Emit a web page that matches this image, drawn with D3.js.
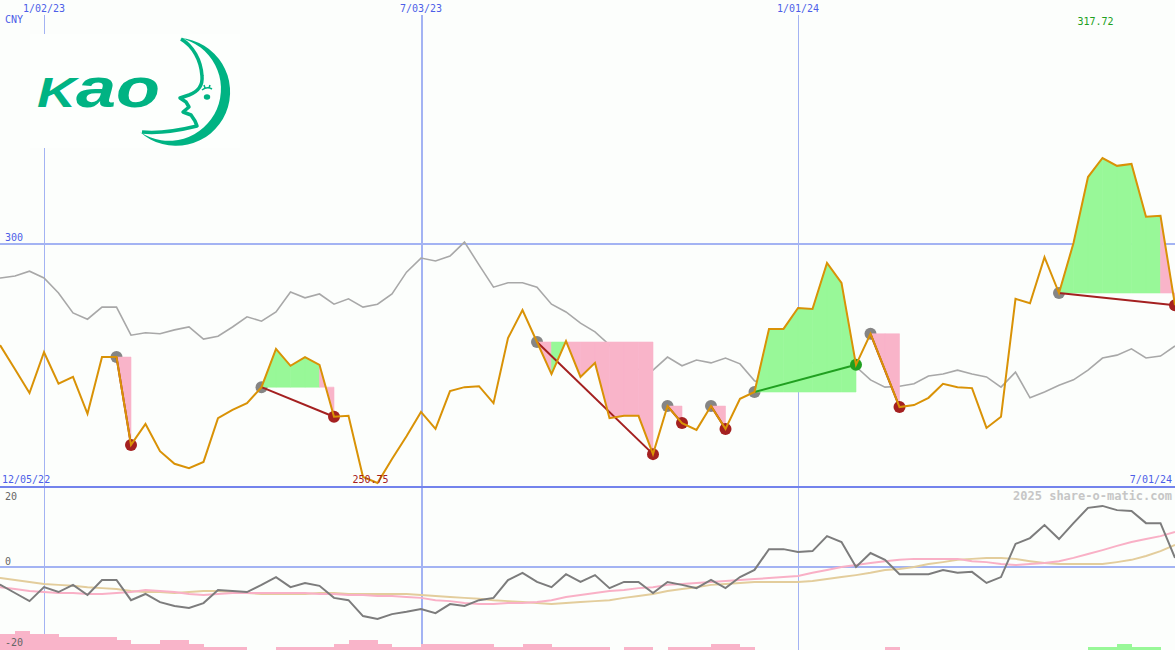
<!DOCTYPE html>
<html>
<head>
<meta charset="utf-8">
<script src="https://cdn.jsdelivr.net/npm/d3@7"></script>
<style>
  html, body { margin: 0; padding: 0; background: #fcfefc; }
  svg { display: block; }
</style>
</head>
<body>
<div id="chart"></div>
<script>

// weekly closes (CNY), 12/05/22 .. 7/01/24
const price = [
  280.2, 279.0, 274.2, 269.3, 277.7, 271.2, 272.6, 265.0, 276.7, 276.7,
  258.6, 262.9, 257.3, 254.7, 253.8, 255.1, 264.1, 265.8, 267.2, 270.5,
  278.4, 274.9, 276.7, 275.1, 264.4, 264.6, 252.0, 250.75, 255.7, 260.4,
  265.4, 261.9, 269.7, 270.5, 270.7, 267.2, 280.6, 286.4, 279.8, 273.2,
  280.0, 272.6, 275.5, 264.1, 264.6, 264.6, 256.7, 266.6, 263.1, 261.7,
  266.6, 261.9, 268.1, 269.5, 282.5, 282.5, 286.8, 286.6, 296.1, 292.0,
  275.1, 281.5, 274.0, 266.4, 266.8, 268.3, 271.2, 270.5, 270.3, 262.1,
  264.4, 288.7, 287.8, 297.3, 289.9, 300.2, 313.8, 317.72, 316.1, 316.5,
  305.6, 305.8, 287.4
]

// grey comparison line, drawn on the price scale
const compare = [
  292.6, 293.0, 293.4, 294.4, 293.0, 289.9, 285.8, 284.5, 287.0, 287.0,
  281.2, 281.7, 281.5, 282.3, 282.9, 280.4, 281.0, 282.9, 285.0, 284.1,
  286.0, 290.1, 288.9, 289.7, 287.6, 288.7, 287.0, 287.6, 289.7, 294.2,
  297.1, 296.5, 297.5, 300.4, 295.7, 291.1, 292.0, 292.0, 291.1, 287.6,
  286.0, 283.7, 281.9, 279.2, 274.2, 274.2, 274.0, 276.7, 274.9, 276.1,
  275.5, 276.5, 275.3, 271.8, 270.7, 270.5, 276.1, 275.5, 275.1, 275.5,
  274.7, 272.0, 270.5, 270.7, 271.2, 272.8, 273.2, 274.0, 273.2, 272.6,
  270.5, 273.6, 268.3, 269.5, 270.9, 272.0, 274.0, 276.5, 277.1, 278.4,
  276.5, 276.9, 279.0
]

// lower panel
const osc = [
  -4.0, -5.5, -8.0, -10.5, -6.2, -7.7, -5.5, -8.6, -4.0, -4.0,
  -10.2, -8.3, -10.8, -12.0, -12.6, -11.1, -7.1, -7.4, -7.7, -5.5,
  -3.1, -6.2, -4.9, -5.8, -9.5, -10.2, -15.1, -16.0, -14.5, -13.8,
  -12.9, -14.2, -11.4, -12.0, -10.2, -9.5, -4.0, -1.8, -4.6, -6.2,
  -2.2, -4.6, -2.5, -6.5, -4.6, -4.6, -8.0, -4.6, -5.5, -6.5,
  -4.0, -6.5, -3.1, -0.9, 5.5, 5.5, 4.6, 4.9, 9.5, 7.7,
  0.0, 4.3, 2.2, -2.2, -2.2, -2.2, -0.9, -1.8, -1.5, -4.9,
  -3.1, 7.1, 8.9, 12.9, 8.6, 13.5, 18.2, 18.8, 17.5, 17.2,
  13.5, 13.5, 2.8
]
const oscFast = [
  -5.8, -6.2, -6.8, -7.4, -7.7, -8.0, -8.0, -8.3, -8.3, -8.0,
  -7.7, -7.1, -7.4, -7.7, -8.3, -8.6, -8.3, -8.0, -8.0, -8.0,
  -8.0, -8.0, -8.0, -8.3, -8.3, -8.6, -8.6, -8.9, -8.9, -9.2,
  -9.5, -10.2, -10.5, -11.1, -11.4, -11.4, -11.1, -11.1, -10.8, -10.2,
  -9.2, -8.6, -8.0, -7.4, -7.1, -6.5, -6.2, -5.5, -5.2, -4.9,
  -4.6, -4.3, -4.0, -3.7, -3.4, -3.1, -2.8, -1.8, -0.9, 0.0,
  0.6, 1.2, 1.8, 2.2, 2.5, 2.5, 2.5, 2.5, 1.8, 1.5,
  0.9, 0.6, 0.9, 1.2, 1.8, 2.8, 4.0, 5.2, 6.5, 7.7,
  8.6, 9.5, 10.8
]
const oscSlow = [
  -2.8, -3.4, -4.0, -4.6, -5.2, -5.5, -5.8, -6.2, -6.5, -6.8,
  -7.4, -7.7, -7.7, -8.0, -7.7, -7.4, -7.4, -7.7, -8.0, -8.3,
  -8.3, -8.3, -8.3, -8.0, -8.0, -8.3, -8.3, -8.3, -8.3, -8.3,
  -8.6, -8.9, -9.2, -9.5, -9.8, -10.2, -10.5, -10.8, -11.1, -11.4,
  -11.1, -10.8, -10.5, -10.2, -9.5, -8.9, -8.3, -7.4, -6.8, -6.2,
  -5.5, -5.2, -4.9, -4.6, -4.6, -4.6, -4.6, -4.3, -3.7, -3.1,
  -2.5, -1.8, -0.9, -0.6, 0.0, 0.9, 1.5, 2.2, 2.5, 2.8,
  2.8, 2.5, 1.8, 1.2, 0.9, 0.9, 0.9, 0.9, 1.5, 2.2,
  3.4, 4.9, 6.8
]
// bottom strip: negative = pink, positive = green
const strip = [
  -5, -5, -6, -5, -5, -4, -4, -4, -4, -3,
  -2, -2, -3, -3, -2, -1, -1, -1, 0, 0,
  -1, -1, -1, -1, -2, -3, -3, -2, -1, -1,
  -2, -2, -2, -2, -2, -1, -1, -2, -2, -1,
  -1, -1, -1, 0, -1, -1, 0, -1, -1, -1,
  -2, -2, -1, 0, 0, 0, 0, 0, 0, 0,
  0, 0, -1, 0, 0, 0, 0, 0, 0, 0,
  0, 0, 0, 0, 0, 0, 1, 1, 2, 1,
  1, 0, 0
]

// signal runs: start week index -> end week index
const signals = [[9, 10], [19, 24], [38, 46], [47, 48], [50, 51], [53, 60], [61, 63], [74, 82]]

const gridDates = ["2023-01-02", "2023-07-03", "2024-01-01"]
const gridLabels = ["1/02/23", "7/03/23", "1/01/24"]
const oscTicks = [20, 0, -20]

const W = 1175
const H = 650
const BLUE_TEXT = "#4d5ee8"
const GRID = "#a3b3f3"
const PINK = "#f9b4c9"
const LIGHT_GREEN = "#98f898"
const DOWN = "#a42020"
const UP = "#20a020"

const parse = d3.utcParse("%Y-%m-%d")
const start = parse("2022-12-05")
const end = parse("2024-07-01")
const dates = d3.utcMonday.range(start, d3.utcDay.offset(end, 1))

const x = d3.scaleUtc().domain([start, end]).range([-14, W])
const y = d3.scaleLinear().domain([250.75, 317.72]).range([483, 158])
const yOsc = d3.scaleLinear().domain([-20, 20]).range([632, 502])
const yStrip = d3.scaleLinear().domain([0, 6]).range([650, 630.8])

const svg = d3.select("#chart").append("svg")
    .attr("width", W)
    .attr("height", H)
    .style("font-family", "'DejaVu Sans Mono', monospace")

svg.append("rect").attr("width", W).attr("height", H).attr("fill", "#fcfefc")

// grid
let grid = svg.append("g").attr("shape-rendering", "crispEdges")
gridDates.forEach((d, i) => {
    grid.append("line")
        .attr("x1", Math.round(x(parse(d))) + 0.5).attr("x2", Math.round(x(parse(d))) + 0.5)
        .attr("y1", 15).attr("y2", H)
        .attr("stroke", GRID)
        .attr("stroke-width", i == 1 ? 2 : 1)
})
grid.append("line").attr("x1", 0).attr("x2", W)
    .attr("y1", Math.round(y(300))).attr("y2", Math.round(y(300)))
    .attr("stroke", GRID).attr("stroke-width", 2)
grid.append("line").attr("x1", 0).attr("x2", W)
    .attr("y1", yOsc(0)).attr("y2", yOsc(0))
    .attr("stroke", GRID).attr("stroke-width", 2)
grid.append("line").attr("x1", 0).attr("x2", W)
    .attr("y1", 487).attr("y2", 487)
    .attr("stroke", "#7383ec").attr("stroke-width", 2)

// logo
let logo = svg.append("g")
logo.append("rect").attr("x", 30).attr("y", 34).attr("width", 210).attr("height", 114).attr("fill", "#fdfffd")
const KAO = "#00b383"
logo.append("text")
    .attr("x", 37).attr("y", 107)
    .attr("textLength", 123).attr("lengthAdjust", "spacingAndGlyphs")
    .style("font-family", "'Liberation Sans', Arial, sans-serif")
    .style("font-weight", "bold").style("font-style", "italic")
    .attr("fill", KAO)
    .call(t => {
        t.append("tspan").attr("font-size", 42).text("K")
        t.append("tspan").attr("font-size", 56).text("ao")
    })
logo.append("path")
    .attr("d", "M180,38 A54,54 0 1 1 140,132 A52,52 0 1 0 180,38 Z")
    .attr("fill", KAO)
logo.append("path")
    .attr("d", "M181,39 C193,46 201,60 202,76 C203,86 197,92 189,95 L180,98 L186,102 L189,107 L183,112 L191,115 L195,121 L197,126 C185,129 165,134 142,132")
    .attr("fill", "none").attr("stroke", KAO).attr("stroke-width", 3.5).attr("stroke-linejoin", "round")
logo.append("ellipse").attr("cx", 207).attr("cy", 97).attr("rx", 3.2).attr("ry", 2.8).attr("fill", KAO)
logo.append("path").attr("d", "M202,90 Q207,86 212,89 M205,88 L204,85 M209,88 L210,85")
    .attr("fill", "none").attr("stroke", KAO).attr("stroke-width", 1.5)

// lower panel strip
svg.append("g").attr("shape-rendering", "crispEdges")
    .selectAll("rect")
    .data(strip.map((v, i) => ({ v: v, i: i })).filter(d => d.v != 0))
    .join("rect")
    .attr("x", d => x(dates[d.i]))
    .attr("width", d => x(d3.utcWeek.offset(dates[d.i], 1)) - x(dates[d.i]))
    .attr("y", d => yStrip(Math.abs(d.v)))
    .attr("height", d => 650 - yStrip(Math.abs(d.v)))
    .attr("fill", d => d.v < 0 ? PINK : LIGHT_GREEN)

const oscLine = d3.line().x((d, i) => x(dates[i])).y(d => yOsc(d))
svg.append("path").attr("d", oscLine(oscSlow)).attr("fill", "none").attr("stroke", "#e3cd9c").attr("stroke-width", 2)
svg.append("path").attr("d", oscLine(oscFast)).attr("fill", "none").attr("stroke", "#f9b0c6").attr("stroke-width", 2)
svg.append("path").attr("d", oscLine(osc)).attr("fill", "none").attr("stroke", "#7c7c7c").attr("stroke-width", 2)

// main panel
const priceLine = d3.line().x((d, i) => x(dates[i])).y(d => y(d))
svg.append("path").attr("d", priceLine(compare)).attr("fill", "none").attr("stroke", "#a8a8a8").attr("stroke-width", 1.6)

let sig = svg.append("g")
signals.forEach(s => {
    sig.append("circle").attr("cx", x(dates[s[0]])).attr("cy", y(price[s[0]])).attr("r", 6).attr("fill", "#858585")
})
signals.forEach(s => {
    let base = price[s[0]]
    for (let j = s[0]; j < s[1]; j++) {
        let seg = [j, j + 1]
        let area = d3.area()
            .x(k => x(dates[k]))
            .y0(y(base))
            .y1(k => y(price[k]))
        sig.append("path")
            .attr("d", area(seg))
            .attr("fill", price[j + 1] >= base ? LIGHT_GREEN : PINK)
            .attr("stroke", price[j + 1] >= base ? LIGHT_GREEN : PINK)
            .attr("stroke-width", 0.6)
    }
})
signals.forEach(s => {
    let up = price[s[1]] >= price[s[0]]
    sig.append("circle").attr("cx", x(dates[s[1]])).attr("cy", y(price[s[1]])).attr("r", 6).attr("fill", up ? UP : DOWN)
})
signals.forEach(s => {
    let up = price[s[1]] >= price[s[0]]
    sig.append("line")
        .attr("x1", x(dates[s[0]])).attr("y1", y(price[s[0]]))
        .attr("x2", x(dates[s[1]])).attr("y2", y(price[s[1]]))
        .attr("stroke", up ? UP : DOWN).attr("stroke-width", 2)
})

svg.append("path").attr("d", priceLine(price)).attr("fill", "none").attr("stroke", "#d99206").attr("stroke-width", 2)

// texts
let txt = svg.append("g").attr("font-size", 10)
gridDates.forEach((d, i) => {
    txt.append("text").attr("x", x(parse(d))).attr("y", 12).attr("text-anchor", "middle")
        .attr("fill", BLUE_TEXT).text(gridLabels[i])
})
txt.append("text").attr("x", 5).attr("y", 23).attr("fill", BLUE_TEXT).text("CNY")
txt.append("text").attr("x", 5).attr("y", y(300) - 3).attr("fill", BLUE_TEXT).text("300")
txt.append("text").attr("x", 2).attr("y", 483).attr("fill", BLUE_TEXT).text("12/05/22")
txt.append("text").attr("x", W - 3).attr("y", 483).attr("text-anchor", "end").attr("fill", BLUE_TEXT).text("7/01/24")

let iMin = d3.minIndex(price)
let iMax = d3.maxIndex(price)
txt.append("text").attr("x", x(dates[iMin]) - 7).attr("y", 483).attr("text-anchor", "middle")
    .attr("fill", DOWN).text(d3.format(".2f")(price[iMin]))
txt.append("text").attr("x", x(dates[iMax]) - 7).attr("y", 25).attr("text-anchor", "middle")
    .attr("fill", UP).text(d3.format(".2f")(price[iMax]))

oscTicks.forEach(v => {
    let ty = v == -20 ? 646 : yOsc(v) - 2
    txt.append("text").attr("x", 5).attr("y", ty).attr("fill", "#666666").text(v)
})

svg.append("text").attr("x", W - 3).attr("y", 500).attr("text-anchor", "end")
    .attr("font-size", 12).attr("font-weight", "bold").attr("fill", "#c6c6c6")
    .text("2025 share-o-matic.com")

</script>
</body>
</html>
